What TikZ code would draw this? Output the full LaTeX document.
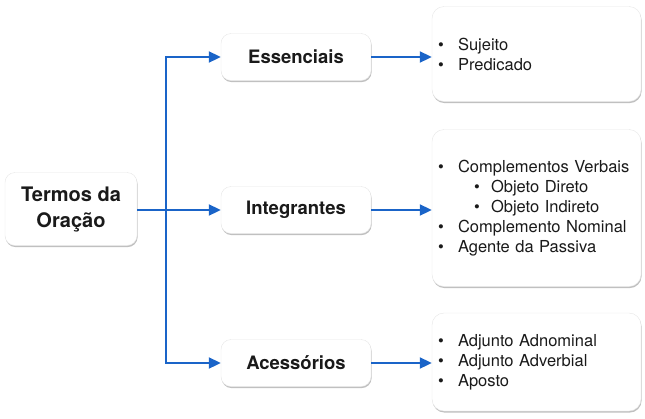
\documentclass[tikz,border=0pt]{standalone}
\usepackage{fontspec}
\setmainfont{TeX Gyre Heros}
\usetikzlibrary{arrows.meta, positioning, calc, shadows}
\definecolor{arrowblue}{HTML}{1A64C8}
\definecolor{cardborder}{HTML}{E6E6E6}
\definecolor{textdark}{HTML}{1A1A1A}
\tikzset{
  card/.style={rectangle, rounded corners=10pt, fill=white, draw=cardborder,
               line width=0.4pt, align=center, text=textdark,
               drop shadow={shadow xshift=0.6pt, shadow yshift=-1.6pt,
                            fill=black!55, opacity=0.45}},
  rootcard/.style={card, minimum width=132pt, minimum height=73pt,
                   font=\fontsize{20}{26}\selectfont\bfseries},
  termcard/.style={card, minimum width=150pt, minimum height=47pt,
                   font=\fontsize{18.5}{20}\selectfont\bfseries},
  listcard/.style={card, rounded corners=12pt, minimum width=209pt, align=left,
                   text width=197pt, inner xsep=6pt,
                   font=\fontsize{16.5}{20}\selectfont},
  flow/.style={-{Triangle[length=12pt, width=11pt]}, line width=2pt, draw=arrowblue},
}
\newcommand{\itm}[1]{\makebox[20pt][l]{\textbullet}#1}
\newcommand{\subitm}[1]{\hspace{36pt}\makebox[17pt][l]{\textbullet}#1}

\begin{document}
\begin{tikzpicture}[x=1pt, y=-1pt]
\useasboundingbox (0,0) rectangle (645,418);

% Root
\node[rootcard] (termos) at (71,209) {Termos da\\Oração};

% Middle column
\node[termcard] (essen) at (296,57) {Essenciais};
\node[termcard] (integ) at (296,210) {Integrantes};
\node[termcard] (acess) at (296,363) {Acessórios};

% Right column
\node[listcard, minimum height=95pt] (essenlist) at (536.5,54) {%
  \itm{Sujeito}\\
  \itm{Predicado}};
\node[listcard, minimum height=157pt] (integlist) at (536.5,208) {%
  \itm{Complementos Verbais}\\
  \subitm{Objeto Direto}\\
  \subitm{Objeto Indireto}\\
  \itm{Complemento Nominal}\\
  \itm{Agente da Passiva}};
\node[listcard, minimum height=98pt] (acesslist) at (536.5,362) {%
  \itm{Adjunto Adnominal}\\
  \itm{Adjunto Adverbial}\\
  \itm{Aposto}};

% Flow
\coordinate (split) at ($(termos.east)!0.34!(integ.west)$);
\draw[flow] (termos.east |- integ.west) -- (integ.west);
\draw[flow] (split) |- (essen.west);
\draw[flow] (split) |- (acess.west);
\draw[flow] (essen.east) -- (essen.east -| essenlist.west);
\draw[flow] (integ.east) -- (integ.east -| integlist.west);
\draw[flow] (acess.east) -- (acess.east -| acesslist.west);

\end{tikzpicture}
\end{document}
